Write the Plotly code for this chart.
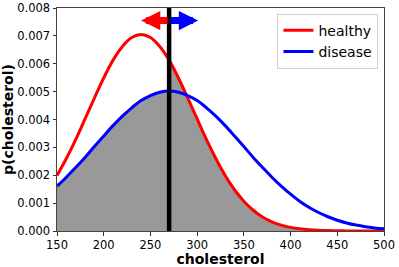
import numpy as np
import plotly.graph_objects as go

# --- data ---
chol = [150, 160, 170, 180, 190, 200, 210, 220, 230, 240, 250, 260, 270, 280, 290,
        300, 310, 320, 330, 340, 350, 360, 370, 380, 390, 400, 410, 420, 430, 440,
        450, 460, 470, 480, 490, 500]
p_healthy = [0.00199, 0.00260, 0.00328, 0.00402, 0.00477, 0.00549, 0.00613, 0.00662,
             0.00694, 0.00705, 0.00694, 0.00662, 0.00613, 0.00549, 0.00477, 0.00402,
             0.00328, 0.00260, 0.00199, 0.00148, 0.00107, 0.000745, 0.000504, 0.000331,
             0.000211, 0.000130, 0.0000776, 0.0000448, 0.0000252, 0.0000137, 0.0000072,
             0.0000036, 0.0000018, 0.0000008, 0.0000004, 0.0000002]
p_disease = [0.00161, 0.00193, 0.00228, 0.00264, 0.00303, 0.00341, 0.00378, 0.00412,
             0.00442, 0.00468, 0.00486, 0.00498, 0.00502, 0.00498, 0.00486, 0.00468,
             0.00442, 0.00412, 0.00378, 0.00341, 0.00303, 0.00264, 0.00228, 0.00193,
             0.00161, 0.00132, 0.00106, 0.000846, 0.000663, 0.000511, 0.000387, 0.000289,
             0.000212, 0.000153, 0.000109, 0.0000765]
threshold = 270
arrow_left_end = 240
arrow_right_end = 301
arrow_level = 0.00755
y_max = 0.008
x_ticks = [150, 200, 250, 300, 350, 400, 450, 500]
y_ticks = [0.000, 0.001, 0.002, 0.003, 0.004, 0.005, 0.006, 0.007, 0.008]

x = np.array(chol, dtype=float)
h = np.array(p_healthy)
d = np.array(p_disease)

# gray region: disease curve left of threshold, healthy curve right of it
left = x < threshold
fx = list(x[left]) + [threshold, threshold] + list(x[x > threshold])
fy = list(d[left]) + [d[x == threshold][0], h[x == threshold][0]] + list(h[x > threshold])

fig = go.Figure()
fig.add_trace(go.Scatter(x=fx, y=fy, mode="lines", line=dict(width=0),
                         fill="tozeroy", fillcolor="#999999", showlegend=False,
                         hoverinfo="skip"))
fig.add_trace(go.Scatter(x=chol, y=p_healthy, mode="lines", name="healthy",
                         line=dict(color="#ff0000", width=3, shape="spline")))
fig.add_trace(go.Scatter(x=chol, y=p_disease, mode="lines", name="disease",
                         line=dict(color="#0000ff", width=3, shape="spline")))
fig.add_trace(go.Scatter(x=[threshold, threshold], y=[0, y_max], mode="lines",
                         line=dict(color="black", width=4.5), showlegend=False))

for tip, col in [(arrow_left_end, "#ff0000"), (arrow_right_end, "#0000ff")]:
    fig.add_annotation(x=tip, y=arrow_level, ax=threshold, ay=arrow_level,
                       xref="x", yref="y", axref="x", ayref="y", text="",
                       showarrow=True, arrowhead=2, arrowsize=0.55, arrowwidth=7,
                       arrowcolor=col, standoff=0, startstandoff=0)

fig.update_layout(
    width=399, height=267,
    margin=dict(l=57, r=15, t=8, b=36),
    plot_bgcolor="white", paper_bgcolor="white",
    font=dict(family="DejaVu Sans", size=11.5, color="black"),
    showlegend=True,
    legend=dict(x=0.983, y=0.975, xanchor="right", yanchor="top",
                bgcolor="rgba(255,255,255,0.8)", bordercolor="#d0d0d0", borderwidth=1,
                font=dict(family="DejaVu Sans", size=14, color="black"),
                itemwidth=30, tracegroupgap=0),
    xaxis=dict(range=[150, 500], tickvals=x_ticks, ticks="outside", ticklen=3.5,
               tickcolor="#333", showgrid=False, zeroline=False, showline=True,
               linecolor="#444", linewidth=1, mirror=True, automargin=False,
               title=dict(text="<b>cholesterol</b>", font=dict(size=14, family="DejaVu Sans"),
                          standoff=0),
               tickfont=dict(size=11.5)),
    yaxis=dict(range=[0, y_max], tickvals=y_ticks, tickformat=".3f", ticks="outside",
               ticklen=3.5, tickcolor="#333", showgrid=False, zeroline=False,
               showline=True, linecolor="#444", linewidth=1, mirror=True, automargin=False,
               title=dict(text="<b>p(cholesterol)</b>", font=dict(size=14, family="DejaVu Sans"),
                          standoff=0),
               tickfont=dict(size=11.5)),
)

fig.write_html("out.html", config={"displayModeBar": False},
               post_script="document.body.style.margin='0';document.body.style.overflow='hidden';")
